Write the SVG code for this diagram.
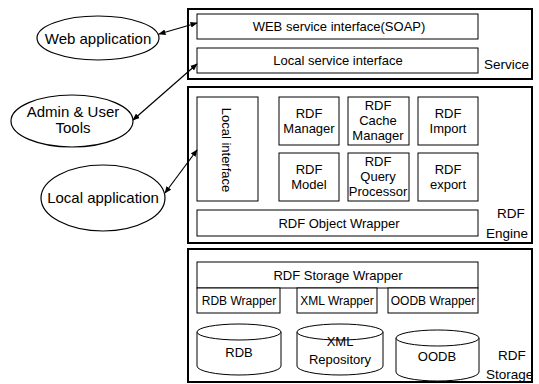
<svg xmlns="http://www.w3.org/2000/svg" width="539" height="384" viewBox="0 0 539 384">
<defs>
<marker id="ah" viewBox="0 0 10 10" refX="9" refY="5" markerWidth="6" markerHeight="6" orient="auto-start-reverse">
<path d="M0,1 L10,5 L0,9 z" fill="#000"/>
</marker>
<style>
text{font-family:"Liberation Sans",Arial,sans-serif;font-size:13px;fill:#000;text-anchor:middle}
.sm{font-size:12px}
.outer{fill:#fff;stroke:#000;stroke-width:2}
.box{fill:#fff;stroke:#000;stroke-width:1}
.ell{fill:#fff;stroke:#000;stroke-width:1.2}
.conn{stroke:#000;stroke-width:1.2;fill:none}
.lbl{text-anchor:start;font-size:13.5px}
.el{font-size:15px}
</style>
</defs>
<rect width="539" height="384" fill="#fff"/>

<g id="service">
<rect class="outer" x="188" y="9" width="344" height="70"/>
<text class="lbl" x="484" y="69">Service</text>
</g>
<g id="web-service-interface">
<rect class="box" x="197" y="14" width="281" height="25"/>
<text x="339" y="31" font-size="12.3">WEB service interface(SOAP)</text>
</g>
<g id="local-service-interface">
<rect class="box" x="197" y="48" width="281" height="25"/>
<text x="338" y="65">Local service interface</text>
</g>

<g id="rdf-engine">
<rect class="outer" x="188" y="87" width="344" height="156"/>
<text class="lbl" x="497" y="218">RDF</text>
<text class="lbl" x="486" y="238">Engine</text>
</g>
<g id="local-interface">
<rect class="box" x="197" y="97" width="61" height="104"/>
<text x="0" y="0" font-size="15" transform="translate(222,150) rotate(90)">Local interface</text>
</g>
<g id="rdf-manager">
<rect class="box" x="279" y="97" width="60" height="48"/>
<text x="309" y="118">RDF</text>
<text x="309" y="133">Manager</text>
</g>
<g id="rdf-cache-manager">
<rect class="box" x="348" y="97" width="61" height="48"/>
<text x="378" y="110">RDF</text>
<text x="378" y="125">Cache</text>
<text x="378" y="140">Manager</text>
</g>
<g id="rdf-import">
<rect class="box" x="418" y="97" width="60" height="48"/>
<text x="448" y="118">RDF</text>
<text x="448" y="133">Import</text>
</g>
<g id="rdf-model">
<rect class="box" x="279" y="153" width="60" height="48"/>
<text x="309" y="174">RDF</text>
<text x="309" y="189">Model</text>
</g>
<g id="rdf-query-processor">
<rect class="box" x="348" y="153" width="61" height="48"/>
<text x="378" y="166">RDF</text>
<text x="378" y="181">Query</text>
<text x="378" y="196">Processor</text>
</g>
<g id="rdf-export">
<rect class="box" x="418" y="153" width="60" height="48"/>
<text x="448" y="174">RDF</text>
<text x="448" y="189">export</text>
</g>
<g id="rdf-object-wrapper">
<rect class="box" x="197" y="210" width="281" height="26"/>
<text x="339" y="228" font-size="13.5">RDF Object Wrapper</text>
</g>

<g id="rdf-storage">
<rect class="outer" x="188" y="249" width="344" height="133"/>
<text class="lbl" x="498" y="360">RDF</text>
<text class="lbl" x="486" y="379">Storage</text>
</g>
<g id="rdf-storage-wrapper">
<rect class="box" x="197" y="262" width="281" height="26"/>
<text x="338" y="280" font-size="13.5">RDF Storage Wrapper</text>
</g>
<g id="rdb-wrapper">
<rect class="box" x="197" y="288" width="83" height="25"/>
<text class="sm" x="239" y="305">RDB Wrapper</text>
</g>
<g id="xml-wrapper">
<rect class="box" x="297" y="288" width="80" height="25"/>
<text class="sm" x="337" y="305">XML Wrapper</text>
</g>
<g id="oodb-wrapper">
<rect class="box" x="388" y="288" width="90" height="25"/>
<text class="sm" x="433" y="305">OODB Wrapper</text>
</g>
<g id="rdb">
<path class="box" d="M197,332 L197,366 A42,9 0 0 0 281,366 L281,332"/>
<ellipse class="box" cx="239" cy="332" rx="42" ry="8"/>
<text x="239" y="357">RDB</text>
</g>
<g id="xml-repository">
<path class="box" d="M297,332 L297,366 A43,9 0 0 0 383,366 L383,332"/>
<ellipse class="box" cx="340" cy="332" rx="43" ry="8"/>
<text x="340" y="346">XML</text>
<text x="340" y="364">Repository</text>
</g>
<g id="oodb">
<path class="box" d="M396,338 L396,372 A41.5,9 0 0 0 479,372 L479,338"/>
<ellipse class="box" cx="437.500" cy="338" rx="41.5" ry="8"/>
<text x="437" y="361">OODB</text>
</g>

<g id="web-application">
<ellipse class="ell" cx="98" cy="38" rx="61" ry="22"/>
<text class="el" x="98" y="44">Web application</text>
</g>
<g id="admin-user-tools">
<ellipse class="ell" cx="72" cy="121" rx="61" ry="26"/>
<text class="el" x="73" y="117">Admin &amp; User</text>
<text class="el" x="73" y="133">Tools</text>
</g>
<g id="local-application">
<ellipse class="ell" cx="103" cy="198" rx="62" ry="33"/>
<text class="el" x="103" y="203" font-size="15.5">Local application</text>
</g>

<g id="connectors">
<line class="conn" x1="159" y1="34" x2="197" y2="23" marker-start="url(#ah)" marker-end="url(#ah)"/>
<line class="conn" x1="133" y1="120" x2="197" y2="64" marker-start="url(#ah)" marker-end="url(#ah)"/>
<line class="conn" x1="165" y1="193" x2="197" y2="150" marker-start="url(#ah)" marker-end="url(#ah)"/>
</g>
</svg>
